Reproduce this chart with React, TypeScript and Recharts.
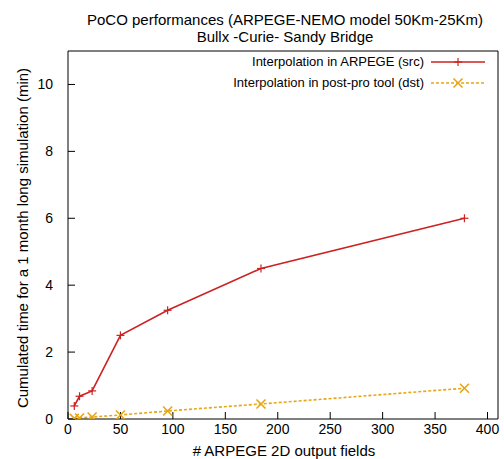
import { LineChart, Line, XAxis, YAxis } from 'recharts'

const fields = [6, 11, 23, 50, 95, 184, 378]
const srcTime = [0.39, 0.68, 0.84, 2.5, 3.25, 4.5, 6.0]
const dstTime = [0.02, 0.03, 0.06, 0.12, 0.24, 0.45, 0.92]
const xTicks = [0, 50, 100, 150, 200, 250, 300, 350, 400]
const yTicks = [0, 2, 4, 6, 8, 10]

const seriesNames = ['Interpolation in ARPEGE (src)', 'Interpolation in post-pro tool (dst)']

const RED = '#cc2222'
const YEL = '#e8a614'
const FONT = '"Liberation Sans", Arial, sans-serif'

const data = fields.map((f, i) => ({ f, src: srcTime[i], dst: dstTime[i] }))

function Plus({ cx, cy, color }: { cx: number; cy: number; color: string }) {
  const s = 4
  return (
    <g stroke={color} strokeWidth={1.2}>
      <line x1={cx - s} y1={cy} x2={cx + s} y2={cy} />
      <line x1={cx} y1={cy - s} x2={cx} y2={cy + s} />
    </g>
  )
}

function Cross({ cx, cy, color }: { cx: number; cy: number; color: string }) {
  const s = 4.5
  return (
    <g stroke={color} strokeWidth={1.6}>
      <line x1={cx - s} y1={cy - s} x2={cx + s} y2={cy + s} />
      <line x1={cx - s} y1={cy + s} x2={cx + s} y2={cy - s} />
    </g>
  )
}

function KeyBox() {
  const rows = [
    { name: seriesNames[0], color: RED, dash: undefined, mark: 'plus' },
    { name: seriesNames[1], color: YEL, dash: '3 2', mark: 'cross' },
  ]
  return (
    <div style={{ position: 'absolute', right: 16, top: 51, fontFamily: FONT, fontSize: 13, color: '#000' }}>
      {rows.map(r => (
        <div key={r.name} style={{ display: 'flex', alignItems: 'center', justifyContent: 'flex-end', height: 21 }}>
          <span>{r.name}</span>
          <svg width={60} height={14} style={{ marginLeft: 4 }}>
            <line x1={3} y1={7} x2={57} y2={7} stroke={r.color} strokeWidth={1.4} strokeDasharray={r.dash} />
            {r.mark === 'plus' ? <Plus cx={30} cy={7} color={r.color} /> : <Cross cx={30} cy={7} color={r.color} />}
          </svg>
        </div>
      ))}
    </div>
  )
}

export default function App() {
  const tickStyle = { fill: '#000', fontSize: 14, fontFamily: FONT }
  return (
    <div style={{ position: 'absolute', left: 0, top: 0, width: 504, height: 459, background: '#fff', fontFamily: FONT }}>
      <div style={{ position: 'absolute', left: 0, width: 570, top: 11, textAlign: 'center', fontSize: 15, lineHeight: '17px' }}>
        PoCO performances (ARPEGE-NEMO model 50Km-25Km)<br />Bullx -Curie- Sandy Bridge
      </div>
      <div style={{ position: 'absolute', left: 22, top: 238, transform: 'translate(-50%, -50%) rotate(-90deg)', whiteSpace: 'nowrap', fontSize: 15 }}>
        Cumulated time for a 1 month long simulation (min)
      </div>
      <div style={{ position: 'absolute', left: 0, width: 568, top: 442, textAlign: 'center', fontSize: 15 }}>
        # ARPEGE 2D output fields
      </div>
      <LineChart width={504} height={459} data={data} margin={{ top: 50, right: 5, bottom: 10, left: 28 }}>
        <XAxis xAxisId="b" dataKey="f" type="number" domain={[0, 410]} ticks={xTicks} allowDataOverflow interval={0}
          height={30} tickSize={-7} tickMargin={12} tick={tickStyle} stroke="#000" />
        <XAxis xAxisId="t" orientation="top" dataKey="f" type="number" domain={[0, 410]} ticks={xTicks} allowDataOverflow interval={0}
          height={1} tickSize={-7} tick={false} stroke="#000" />
        <YAxis yAxisId="l" type="number" domain={[0, 11]} ticks={yTicks} allowDataOverflow interval={0}
          width={40} tickSize={-7} tickMargin={22} tick={tickStyle} stroke="#000" />
        <YAxis yAxisId="r" orientation="right" type="number" domain={[0, 11]} ticks={yTicks} allowDataOverflow interval={0}
          width={1} tickSize={-7} tick={false} stroke="#000" />
        <Line xAxisId="b" yAxisId="l" dataKey="src" name={seriesNames[0]} stroke={RED} strokeWidth={1.6} isAnimationActive={false}
          dot={(p: any) => <Plus key={p.index} cx={p.cx} cy={p.cy} color={RED} />} />
        <Line xAxisId="b" yAxisId="l" dataKey="dst" name={seriesNames[1]} stroke={YEL} strokeWidth={1.6} strokeDasharray="3 2" isAnimationActive={false}
          dot={(p: any) => <Cross key={p.index} cx={p.cx} cy={p.cy} color={YEL} />} />
      </LineChart>
      <KeyBox />
    </div>
  )
}
